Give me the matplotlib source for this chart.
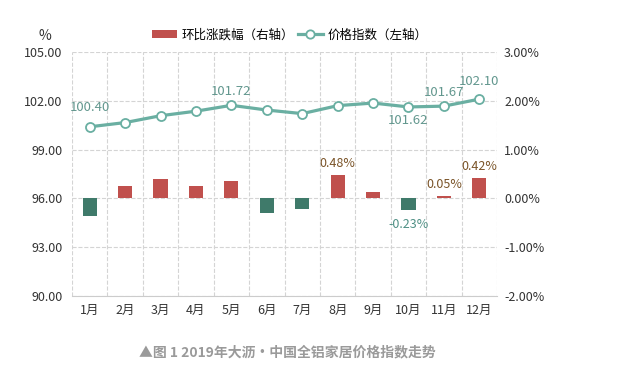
import numpy as np
import matplotlib
matplotlib.use('Agg')
import matplotlib.pyplot as plt
from matplotlib.lines import Line2D
from matplotlib.patches import Patch

plt.rcParams['font.family'] = ['Noto Sans CJK SC', 'DejaVu Sans']

# data
months = ['1月', '2月', '3月', '4月', '5月', '6月', '7月', '8月', '9月', '10月', '11月', '12月']
index_vals = [100.40, 100.66, 101.08, 101.36, 101.72, 101.43, 101.21, 101.70, 101.86, 101.62, 101.67, 102.10]
change_pct = [-0.37, 0.26, 0.40, 0.26, 0.36, -0.29, -0.22, 0.48, 0.14, -0.23, 0.05, 0.42]
index_labeled = {0: 19, 4: 14, 9: -14, 10: 14, 11: 18}   # month -> offset in px
change_labeled = [7, 9, 10, 11]

red = '#C0504D'
green = '#3F7A6A'
teal = '#6AAFA2'
txt = '#333333'

fig = plt.figure(figsize=(6.26, 3.76), dpi=100)
ax = fig.add_axes([0.115, 0.2128, 0.679, 0.649])
ax2 = ax.twinx()

x = np.arange(len(months))

# bars (right axis)
colors = [red if v >= 0 else green for v in change_pct]
ax2.bar(x, change_pct, width=0.4, color=colors, zorder=2)
for i in change_labeled:
    v = change_pct[i]
    if v >= 0:
        ax2.annotate(f'{v:.2f}%', (x[i], v), xytext=(0, 8), textcoords='offset points',
                     ha='center', va='center', fontsize=9, color='#7A5428')
    else:
        ax2.annotate(f'{v:.2f}%', (x[i], v), xytext=(0, -11), textcoords='offset points',
                     ha='center', va='center', fontsize=9, color='#4E8F84')

# line (left axis) - drawn on ax2 so it sits above the bars
ax.set_ylim(90, 105)
ax2.set_ylim(-2, 3)
line_y = [(v - 96) / 3.0 for v in index_vals]   # map left scale onto right scale
ax2.plot(x, line_y, color=teal, lw=2.3, marker='o', ms=6.5, mfc='white',
         mec=teal, mew=1.3, zorder=3)
for i, off in index_labeled.items():
    ax2.annotate(f'{index_vals[i]:.2f}', (x[i], line_y[i]), xytext=(0, off * 0.72),
                 textcoords='offset points', ha='center', va='center',
                 fontsize=9.5, color='#62978E')

# axes styling
ax.set_xlim(-0.5, 11.5)
ax.set_yticks(np.arange(90, 106, 3))
ax.set_yticklabels([f'{v:.2f}' for v in np.arange(90, 106, 3)])
ax2.set_yticks(np.arange(-2, 4, 1))
ax2.set_yticklabels([f'{v:.2f}%' for v in np.arange(-2, 4, 1)])
ax.set_xticks(x)
ax.set_xticklabels(months)
ax.set_xticks(np.arange(-0.5, 12, 1), minor=True)
ax.grid(True, axis='y', color='#d4d4d4', ls='--', lw=0.8)
ax.grid(True, axis='x', which='minor', color='#d4d4d4', ls='--', lw=0.8)
ax.grid(False, axis='x', which='major')
ax.set_axisbelow(True)
for a in (ax, ax2):
    for s in a.spines.values():
        s.set_visible(False)
    a.tick_params(length=0, labelsize=9, colors=txt)
    a.tick_params(which='minor', length=0)
ax.spines['bottom'].set_visible(True)
ax.spines['bottom'].set_color('#cccccc')
ax.tick_params(axis='y', pad=7)
ax.tick_params(axis='x', pad=6)
ax2.tick_params(axis='y', pad=5)

fig.text(0.072, 0.905, '%', fontsize=10, color=txt, ha='center', va='center')

handles = [Patch(facecolor=red, edgecolor='none'),
           Line2D([], [], color=teal, lw=2.3, marker='o', ms=6, mfc='white', mec=teal, mew=1.3)]
fig.legend(handles, ['环比涨跌幅（右轴）', '价格指数（左轴）'], loc='center', ncol=2,
           bbox_to_anchor=(0.463, 0.907), frameon=False, fontsize=9,
           handlelength=2.0, handleheight=0.7, columnspacing=0.3, handletextpad=0.4)

fig.text(0.459, 0.064, '▲图 1 2019年大沥·中国全铝家居价格指数走势', fontsize=10,
         fontweight='bold', color='#9a9a9a', ha='center', va='center')

fig.savefig('out.png', dpi=100, facecolor='white')
